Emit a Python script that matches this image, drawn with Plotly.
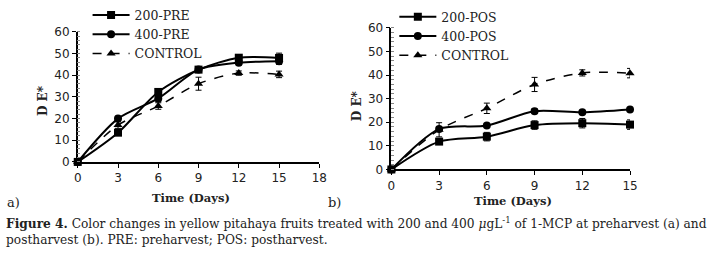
import plotly.graph_objects as go

days = [0, 3, 6, 9, 12, 15]

# Panel a) preharvest
pre200 = [0, 13.5, 32.3, 42.6, 48.1, 48.0]
pre200_err = [0, 1.2, 1.5, 1.0, 1.2, 2.2]
pre400 = [0, 20.0, 29.3, 42.6, 45.8, 46.5]
pre400_err = [0, 1.0, 1.5, 1.0, 1.0, 1.5]
ctlA = [0, 17.0, 25.8, 36.1, 41.0, 40.4]
ctlA_err = [0, 1.5, 1.5, 3.0, 1.0, 1.5]

# Panel b) postharvest
pos200 = [0, 11.8, 13.9, 18.8, 19.6, 19.0]
pos200_err = [0, 1.0, 1.8, 1.8, 2.0, 2.0]
pos400 = [0, 17.1, 18.6, 24.7, 24.2, 25.4]
pos400_err = [0, 1.0, 0.8, 1.0, 0.8, 0.8]
ctlB = [0, 16.8, 25.9, 36.0, 40.9, 40.8]
ctlB_err = [0, 3.0, 2.2, 3.0, 1.3, 2.0]

names_a = ["200-PRE", "400-PRE", "CONTROL"]
names_b = ["200-POS", "400-POS", "CONTROL"]

xticks_a = [0, 3, 6, 9, 12, 15, 18]
xticks_b = [0, 3, 6, 9, 12, 15]
yticks = [0, 10, 20, 30, 40, 50, 60]

W, H = 715, 261
def px(x): return x / W
def py(y): return 1 - y / H

fig = go.Figure()

def add(x, y, err, name, sym, dash, width, size, xa, ya, leg):
    fig.add_trace(go.Scatter(
        x=x, y=y, name=name, mode="lines+markers",
        line=dict(color="black", width=width, dash=dash, shape="spline", smoothing=0.8),
        marker=dict(symbol=sym, size=size, color="black"),
        error_y=dict(type="data", array=err, visible=True, color="black", thickness=1, width=3),
        xaxis=xa, yaxis=ya, legend=leg, cliponaxis=False,
    ))

add(days, pre200, pre200_err, names_a[0], "square", "solid", 2, 8, "x", "y", "legend")
add(days, pre400, pre400_err, names_a[1], "circle", "solid", 2, 8, "x", "y", "legend")
add(days, ctlA, ctlA_err, names_a[2], "triangle-up", "dash", 1.5, 8, "x", "y", "legend")
add(days, pos200, pos200_err, names_b[0], "square", "solid", 2, 8, "x2", "y2", "legend2")
add(days, pos400, pos400_err, names_b[1], "circle", "solid", 2, 8, "x2", "y2", "legend2")
add(days, ctlB, ctlB_err, names_b[2], "triangle-up", "dash", 1.5, 8, "x2", "y2", "legend2")

tickfont = dict(family="DejaVu Sans", size=12, color="#222")
xcommon = dict(showgrid=False, zeroline=False, showline=True, linecolor="black", linewidth=2,
               ticks="outside", ticklen=4, tickcolor="black", tickfont=tickfont, fixedrange=True)
ycommon = dict(showgrid=False, zeroline=False, showline=True, linecolor="black", linewidth=1.5,
               ticks="outside", ticklen=4, tickcolor="black", tickfont=tickfont,
               range=[0, 60], tickvals=yticks, fixedrange=True,
               minor=dict(ticks="inside", ticklen=3, tickcolor="#888", dtick=2, showgrid=False))

legfont = dict(family="DejaVu Serif", size=12.5, color="#222")
fig.update_layout(
    width=W, height=H, margin=dict(l=0, r=0, t=0, b=0),
    plot_bgcolor="white", paper_bgcolor="white",
    xaxis=dict(domain=[px(75), px(320.7)], range=[0, 18], tickvals=xticks_a, anchor="y", **xcommon),
    yaxis=dict(domain=[py(158.3), py(13.3)], anchor="x", **ycommon),
    xaxis2=dict(domain=[px(394), px(636.7)], range=[0, 15], tickvals=xticks_b, anchor="y2", **xcommon),
    yaxis2=dict(domain=[py(166.7), py(8.7)], anchor="x2", **ycommon),
    legend=dict(x=px(85), y=py(-22), xanchor="left", yanchor="top", bgcolor="rgba(0,0,0,0)",
                font=legfont, itemwidth=37, tracegroupgap=0),
    legend2=dict(x=px(397), y=py(-20), xanchor="left", yanchor="top", bgcolor="rgba(0,0,0,0)",
                 font=legfont, itemwidth=37, tracegroupgap=0),
    showlegend=True,
)

serif = "DejaVu Serif"
ann = [
    dict(text="<b>Time (Days)</b>", x=px(190), y=py(199), font=dict(family=serif, size=11.5)),
    dict(text="<b>Time (Days)</b>", x=px(518), y=py(202), font=dict(family=serif, size=11.5)),
    dict(text="<b>D E*</b>", x=px(39), y=py(90), textangle=-90, font=dict(family=serif, size=12)),
    dict(text="<b>D E*</b>", x=px(359), y=py(95), textangle=-90, font=dict(family=serif, size=12)),
    dict(text="a)", x=px(10), y=py(204), font=dict(family=serif, size=13)),
    dict(text="b)", x=px(336), y=py(204), font=dict(family=serif, size=13)),
]
for a in ann:
    fig.add_annotation(xref="paper", yref="paper", showarrow=False, xanchor="center", yanchor="middle",
                       font_color="#222", **a)

fig.add_annotation(xref="paper", yref="paper", showarrow=False, xanchor="left", yanchor="middle",
                   x=px(0), y=py(226), align="left",
                   text="<b>Figure 4.</b> Color changes in yellow pitahaya fruits treated with 200 and 400 <i>μ</i>gL<sup>-1</sup> of 1-MCP at preharvest (a) and",
                   font=dict(family=serif, size=12.2, color="#222"))
fig.add_annotation(xref="paper", yref="paper", showarrow=False, xanchor="left", yanchor="middle",
                   x=px(0), y=py(245), align="left",
                   text="postharvest (b). PRE: preharvest; POS: postharvest.",
                   font=dict(family=serif, size=12.2, color="#222"))

fig.write_html("out.html", config={"displayModeBar": False},
               post_script="document.body.style.margin='0';")
